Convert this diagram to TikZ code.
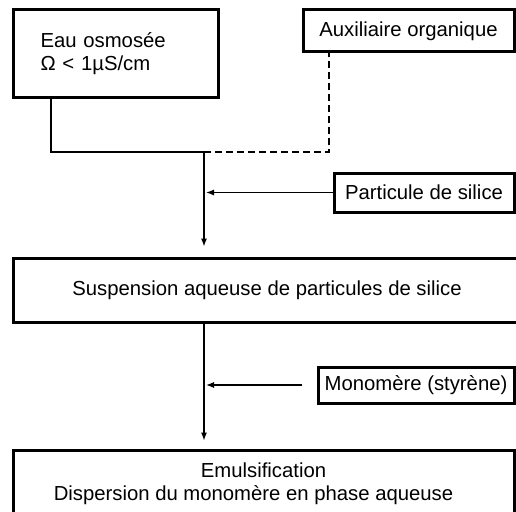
\documentclass[tikz,border=0pt]{standalone}
\usepackage{fontspec}
\setmainfont{Liberation Sans}
\usetikzlibrary{arrows.meta,positioning,calc}

\tikzset{
    stepbox/.style={draw, rectangle, line width=3pt, inner sep=0pt},
    flow/.style={line width=1.1pt, >={Latex[length=8pt,width=6pt]}},
    dashflow/.style={line width=1.1pt, dash pattern=on 7pt off 4pt}
}

\begin{document}
\begin{tikzpicture}[x=1pt, y=-1pt, font=\fontsize{20.3}{23}\selectfont]
    \useasboundingbox (0,0) rectangle (516,511);
    \clip (0,0) rectangle (516,511);

    % input boxes
    \node[stepbox, minimum width=205pt, minimum height=87pt, text width=150pt, align=left] (eau) at (115.5,53.5) {Eau osmosée\\ Ω < 1µS/cm};
    \node[stepbox, minimum width=211pt, minimum height=42pt] (aux) at (408.5,31) {Auxiliaire organique};
    \node[stepbox, minimum width=180pt, minimum height=39pt] (part) at (424,192.5) {Particule de silice};
    \node[stepbox, minimum width=196pt, minimum height=36pt] (mono) at (416,385) {Monomère (styrène)};

    % process boxes
    \node[stepbox, minimum width=508pt, minimum height=64pt] (susp) at (267,290) {Suspension aqueuse de particules de silice};
    \node[stepbox, minimum width=501pt, minimum height=68pt, align=center] (emul) at (263.5,484) {Emulsification\\ \hspace*{-20pt}Dispersion du monomère en phase aqueuse};

    % junction points
    \coordinate (jl) at (51,152);
    \coordinate (j) at (204,152);
    \coordinate (jr) at (329,152);

    \draw[flow] (eau.south -| jl) -- (jl) -- (j);
    \draw[dashflow] (j) -- (jr) -- (aux.south -| jr);
    \draw[flow, ->, shorten >=10pt] (j) -- (susp.north -| j);
    \draw[flow, ->, shorten >=2pt] (part.west) -- (j |- part.west);
    \draw[flow, ->, shorten >=8pt] (susp.south -| j) -- (emul.north -| j);
    \draw[flow, ->, shorten >=2pt] ([xshift=-15pt]mono.west) -- (j |- mono.west);
\end{tikzpicture}
\end{document}
